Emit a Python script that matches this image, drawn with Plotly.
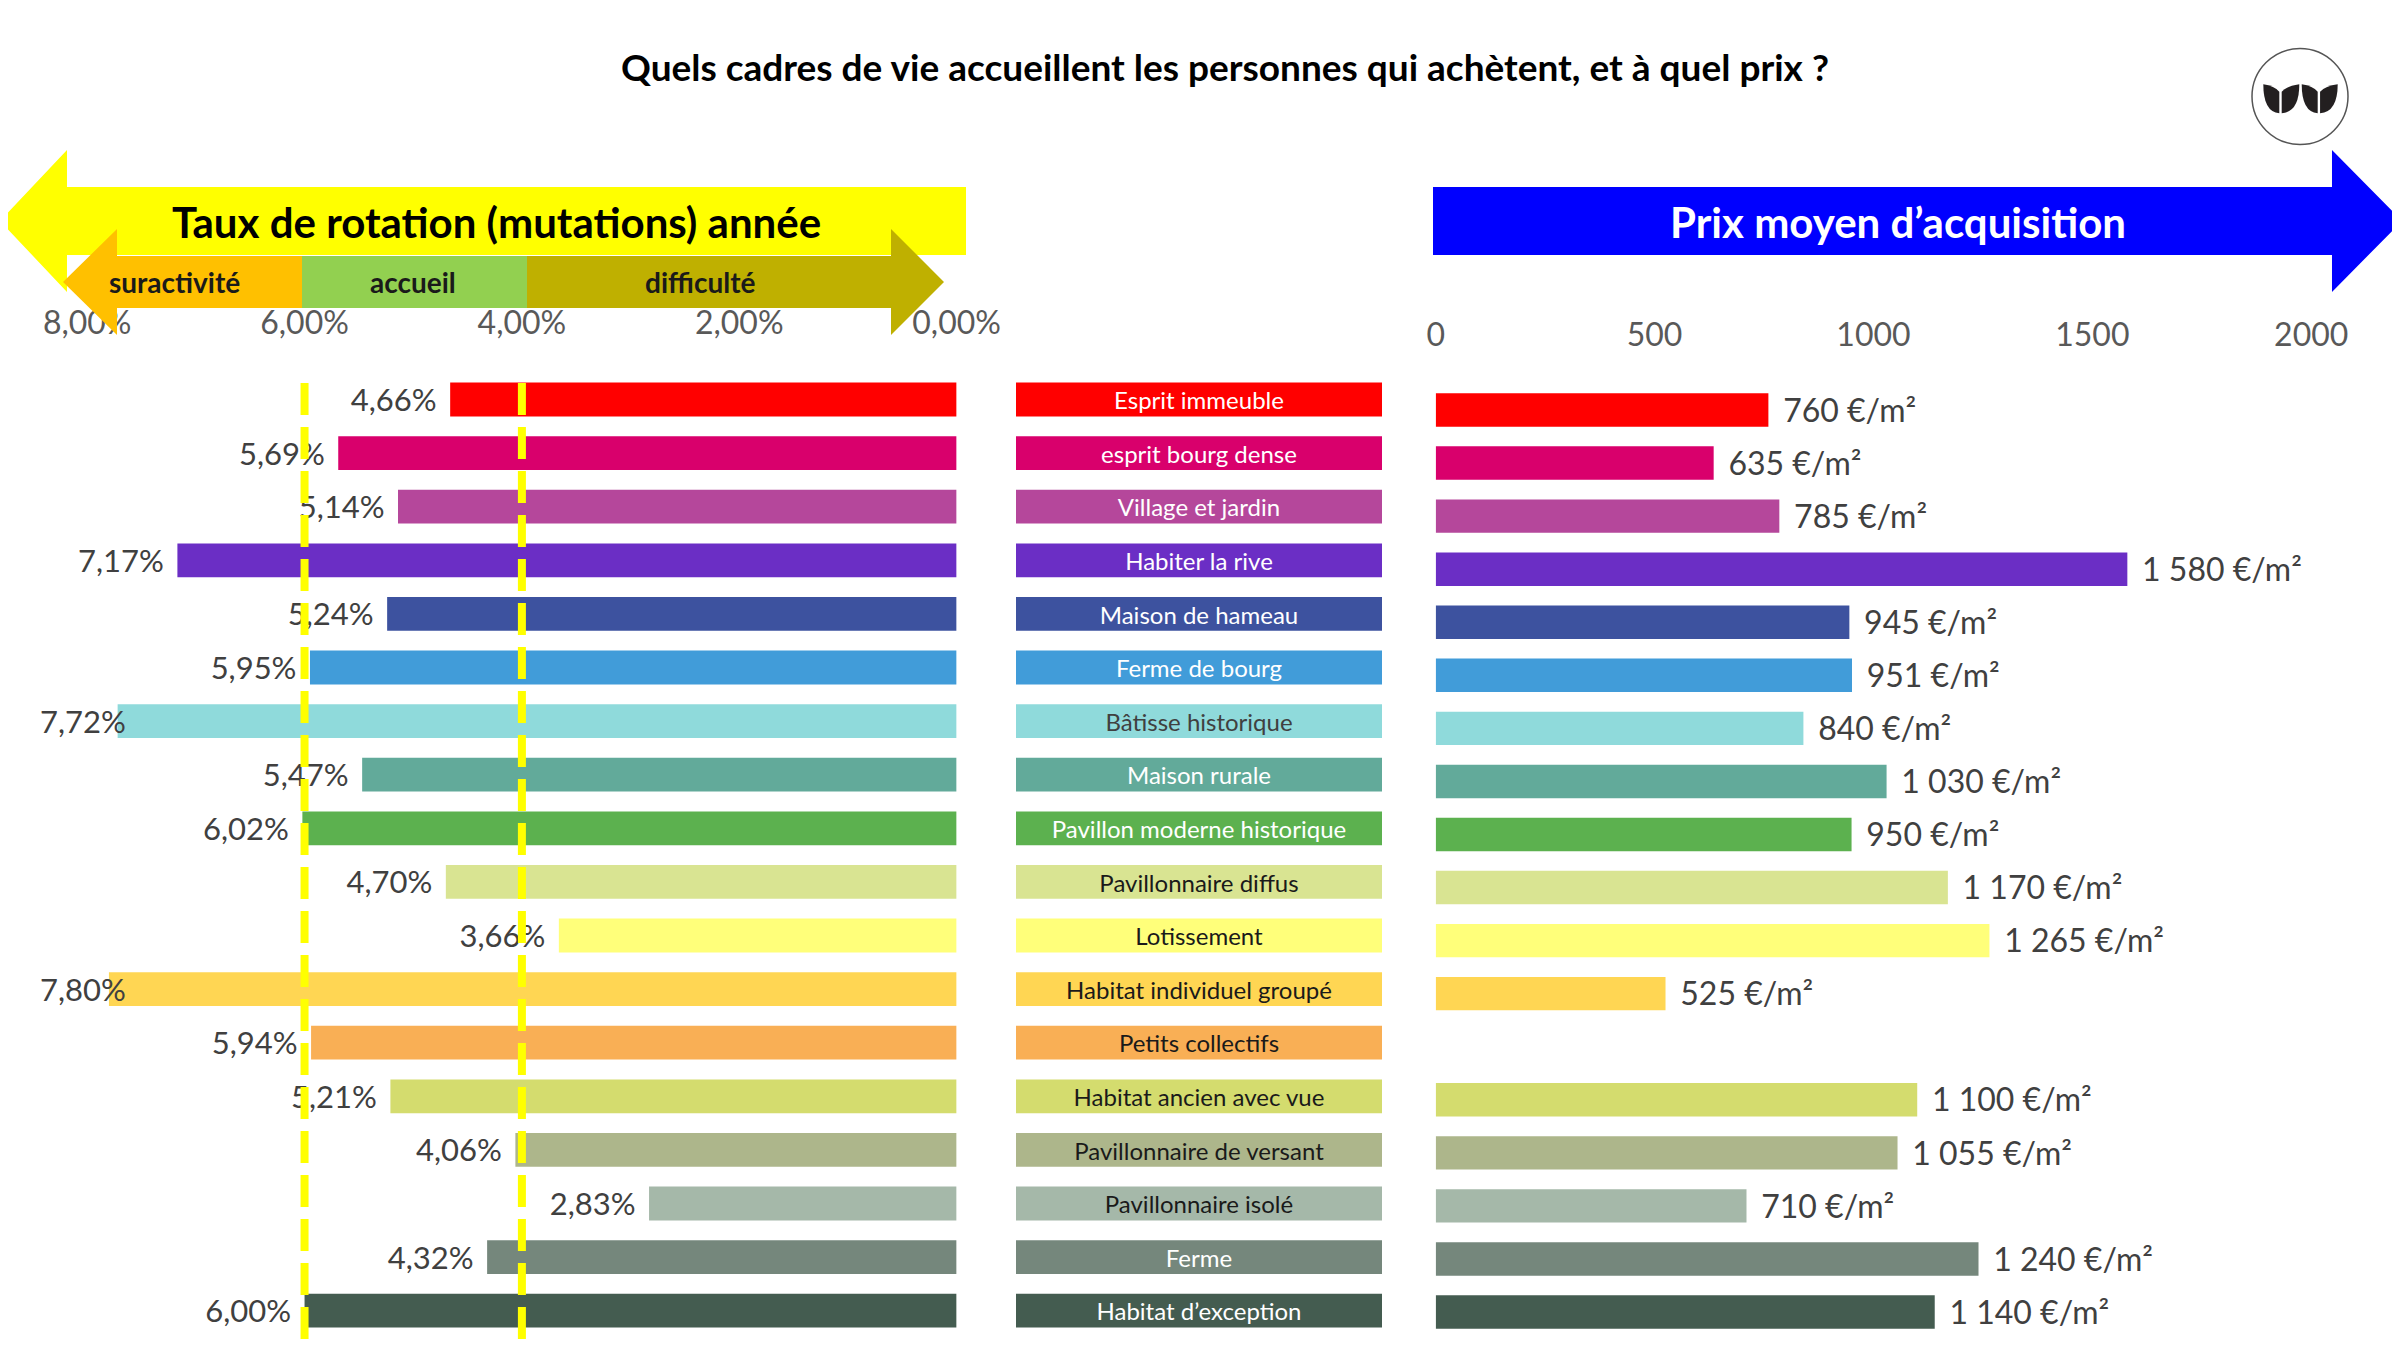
import plotly.graph_objects as go

W, H = 2400, 1350

categories = ["Esprit immeuble", "esprit bourg dense", "Village et jardin", "Habiter la rive",
              "Maison de hameau", "Ferme de bourg", "Bâtisse historique", "Maison rurale",
              "Pavillon moderne historique", "Pavillonnaire diffus", "Lotissement",
              "Habitat individuel groupé", "Petits collectifs", "Habitat ancien avec vue",
              "Pavillonnaire de versant", "Pavillonnaire isolé", "Ferme", "Habitat d’exception"]
rotation = [4.66, 5.69, 5.14, 7.17, 5.24, 5.95, 7.72, 5.47, 6.02, 4.70, 3.66, 7.80, 5.94, 5.21,
            4.06, 2.83, 4.32, 6.00]
prix = [760, 635, 785, 1580, 945, 951, 840, 1030, 950, 1170, 1265, 525, None, 1100, 1055, 710,
        1240, 1140]
colors = ["#FF0000", "#D9006C", "#B5479B", "#6B2EC5", "#3D529F", "#419CD9", "#8FDADB", "#62AA9A",
          "#5CB14F", "#D9E492", "#FFFF7A", "#FFD653", "#F9AF55", "#D4DC6E", "#ADB68B", "#A5B8A9",
          "#75877C", "#445C50"]
label_text_colors = ["white"] * 6 + ["#404040", "white", "white"] + ["#1a1a1a"] * 7 + ["white", "white"]
rot_ticks = [8, 6, 4, 2, 0]
rot_ticktext = ["8,00%", "6,00%", "4,00%", "2,00%", "0,00%"]
prix_ticks = [0, 500, 1000, 1500, 2000]
seuils = [6.0, 4.0]

FONT = "Lato"
OX, OY = 8, 8  # page body margin compensation
LABEL_CLAMP = 7.52   # data labels kept inside the chart area (as in the original)
TEXT_DY = 0.07       # small vertical nudge of labels (row units)


def px(x):
    return (x - OX) / W


def py(y):
    return 1 - (y - OY) / H


n = len(categories)
idx = list(range(n))
idx_txt = [i + TEXT_DY for i in idx]

# row geometry (pixels)
L_first, L_step = 399.5, 53.6
R_first, R_step = 410.0, 53.06
L_top = L_first - L_step / 2
R_top = R_first - R_step / 2
L_bottom_px = H + OY
L_range = [-0.5 + (L_bottom_px - L_top) / L_step, -0.5]
R_range = [-0.5 + (L_bottom_px - R_top) / R_step, -0.5]

rot_labels = [f"{v:.2f}".replace(".", ",") + "%" for v in rotation]
rot_label_x = [min(v, LABEL_CLAMP) for v in rotation]
prix_labels = ["" if v is None else f"{v:,}".replace(",", " ") + " €/m²" for v in prix]

fig = go.Figure()

# Left bars (rotation)
fig.add_trace(go.Bar(x=rotation, y=idx, orientation="h", marker=dict(color=colors, line=dict(width=0)),
                     width=0.63, xaxis="x", yaxis="y", hoverinfo="skip", showlegend=False))
fig.add_trace(go.Scatter(x=rot_label_x, y=idx_txt, mode="markers+text", text=rot_labels,
                         textposition="middle left", marker=dict(size=20, color="rgba(0,0,0,0)"),
                         textfont=dict(family=FONT, size=31, color="#404040"), cliponaxis=False,
                         xaxis="x", yaxis="y", hoverinfo="skip", showlegend=False))

# Category boxes
fig.add_trace(go.Bar(x=[1] * n, y=idx, orientation="h", marker=dict(color=colors, line=dict(width=0)),
                     width=0.63, xaxis="x3", yaxis="y3", hoverinfo="skip", showlegend=False))
fig.add_trace(go.Scatter(x=[0.5] * n, y=idx_txt, mode="text", text=categories,
                         textposition="middle center",
                         textfont=dict(family=FONT, size=24, color=label_text_colors), cliponaxis=False,
                         xaxis="x3", yaxis="y3", hoverinfo="skip", showlegend=False))

# Right bars (prix)
fig.add_trace(go.Bar(x=prix, y=idx, orientation="h", marker=dict(color=colors, line=dict(width=0)),
                     width=0.63, xaxis="x2", yaxis="y2", hoverinfo="skip", showlegend=False))
fig.add_trace(go.Scatter(x=prix, y=idx_txt, mode="markers+text", text=prix_labels,
                         textposition="middle right", marker=dict(size=22, color="rgba(0,0,0,0)"),
                         textfont=dict(family=FONT, size=32, color="#404040"), cliponaxis=False,
                         xaxis="x2", yaxis="y2", hoverinfo="skip", showlegend=False))

shapes = []


def poly(points, color):
    d = "M " + " L ".join(f"{px(x):.5f},{py(y):.5f}" for x, y in points) + " Z"
    return dict(type="path", path=d, xref="paper", yref="paper", fillcolor=color,
                line=dict(width=0), layer="above")


# Yellow left arrow
shapes.append(poly([(0, 221), (67, 150), (67, 187), (966, 187), (966, 255), (67, 255), (67, 292)],
                   "#FFFF00"))
# Inner double arrow: orange / green / olive
shapes.append(poly([(63, 282), (117, 229), (117, 256), (302, 256), (302, 308), (117, 308), (117, 335)],
                   "#FFC000"))
shapes.append(poly([(302, 256), (527, 256), (527, 308), (302, 308)], "#92D050"))
shapes.append(poly([(527, 256), (891, 256), (891, 229), (944, 282), (891, 335), (891, 308), (527, 308)],
                   "#BFB000"))
# Blue right arrow
shapes.append(poly([(1433, 187), (2332, 187), (2332, 150), (2402, 221), (2332, 292), (2332, 255),
                    (1433, 255)], "#0000FF"))

# Threshold dashed lines
for s in seuils:
    shapes.append(dict(type="line", xref="x", yref="paper", x0=s, x1=s, y0=py(383), y1=py(H),
                       line=dict(color="#FFFF00", width=8, dash="32px,12px"), layer="above"))

# Logo
cx, cy, r = 2300, 96.5, 48
shapes.append(dict(type="circle", xref="paper", yref="paper", x0=px(cx - r), x1=px(cx + r),
                   y0=py(cy + r), y1=py(cy - r), line=dict(color="#555555", width=1.5),
                   fillcolor="white", layer="above"))


def leaf(x_out, x_in):
    pts = [(x_out, 84.3), (x_out, 112.0), (x_in, 113.3), (x_in, 91.7), (x_in + (x_out - x_in) * 0.3, 86)]
    f = lambda p: f"{px(p[0]):.5f},{py(p[1]):.5f}"
    d = (f"M {f(pts[0])} Q {f(pts[1])} {f(pts[2])} L {f(pts[3])} Q {f(pts[4])} {f(pts[0])} Z")
    return dict(type="path", path=d, xref="paper", yref="paper", fillcolor="#231F20",
                line=dict(width=0), layer="above")


for off in (0, 38.4):
    shapes.append(leaf(2263.3 + off, 2279.3 + off))
    shapes.append(leaf(2299.3 + off, 2281.7 + off))


def ann(text, x, y, size, color):
    return dict(text=text, x=px(x), y=py(y), xref="paper", yref="paper", showarrow=False,
                xanchor="center", yanchor="middle", font=dict(family=FONT, size=size, color=color))


annotations = [
    ann("<b>Quels cadres de vie accueillent les personnes qui achètent, et à quel prix ?</b>",
        1225, 67, 37, "black"),
    ann("<b>Taux de rotation (mutations) année</b>", 497, 222, 42, "black"),
    ann("<b>suractivité</b>", 174, 282, 28, "#1a1a1a"),
    ann("<b>accueil</b>", 413, 282, 28, "#1a1a1a"),
    ann("<b>difficulté</b>", 700, 282, 28, "#1a1a1a"),
    ann("<b>Prix moyen d’acquisition</b>", 1898, 222, 42, "white"),
]

tickfont = dict(family=FONT, size=32, color="#595959")

fig.update_layout(
    width=W, height=H, margin=dict(l=0, r=0, t=0, b=0, pad=0, autoexpand=False),
    paper_bgcolor="white", plot_bgcolor="rgba(0,0,0,0)",
    barmode="overlay", showlegend=False,
    xaxis=dict(domain=[px(87.2), px(956.6)], range=[8, 0], side="top", anchor="free",
               position=py(340), tickvals=rot_ticks, ticktext=rot_ticktext, tickfont=tickfont,
               showgrid=False, zeroline=False, showline=False, ticks="", automargin=False),
    yaxis=dict(domain=[0, py(L_top)], range=L_range, visible=False, anchor="x", automargin=False),
    xaxis3=dict(domain=[px(1016), px(1382)], range=[0, 1], visible=False, anchor="y3",
                automargin=False),
    yaxis3=dict(domain=[0, py(L_top)], range=L_range, visible=False, anchor="x3", automargin=False),
    xaxis2=dict(domain=[px(1435.7), px(2311.2)], range=[0, 2000], side="top", anchor="free",
                position=py(352), tickvals=prix_ticks, tickfont=tickfont,
                showgrid=False, zeroline=False, showline=False, ticks="", automargin=False),
    yaxis2=dict(domain=[0, py(R_top)], range=R_range, visible=False, anchor="x2", automargin=False),
    shapes=shapes, annotations=annotations,
    font=dict(family=FONT),
)

fig.write_html("out.html")
